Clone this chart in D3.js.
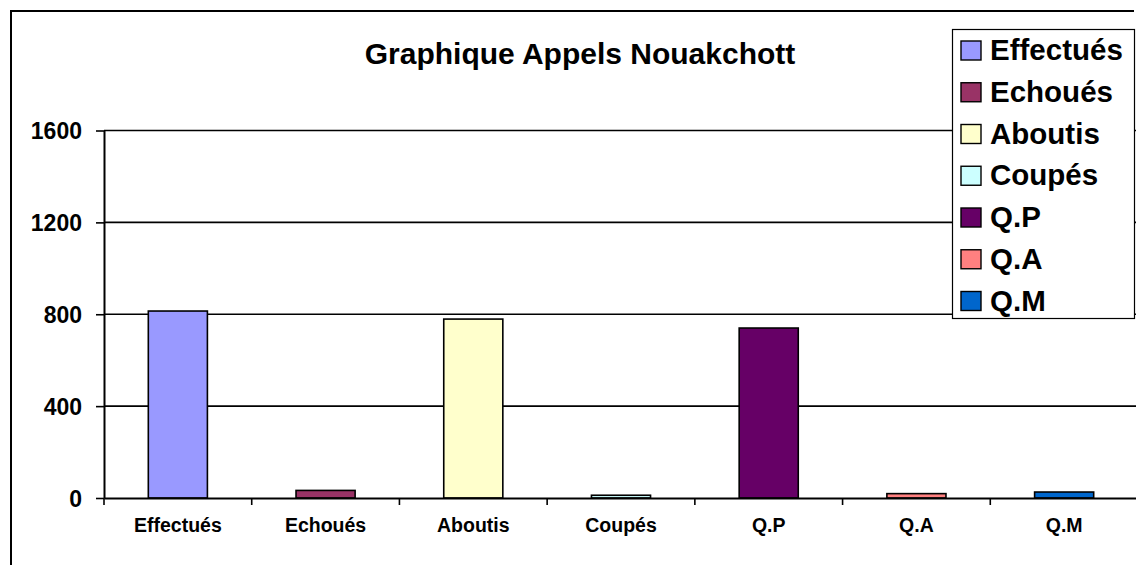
<!DOCTYPE html>
<html>
<head>
<meta charset="utf-8">
<script src="https://cdn.jsdelivr.net/npm/d3@7"></script>
<style>
  body { margin: 0; background: #fff; }
  text { font-family: "Liberation Sans", Arial, sans-serif; font-weight: bold; fill: #000; }
</style>
</head>
<body>
<script>
// data
const categories = ["Effectués", "Echoués", "Aboutis", "Coupés", "Q.P", "Q.A", "Q.M"];
const values = [814, 33, 779, 12, 740, 19, 26];
const colors = ["#9999FF", "#993366", "#FFFFCC", "#CCFFFF", "#660066", "#FF8080", "#0066CC"];
const yTicks = [0, 400, 800, 1200, 1600];
const title = "Graphique Appels Nouakchott";

const width = 1136, height = 565;
const plotLeft = 104, plotBottom = 498, plotTop = 130.5, plotRight = 1138;

const svg = d3.select("body").append("svg")
    .attr("width", width)
    .attr("height", height);

// outer frame (only top and left are visible)
svg.append("path")
    .attr("d", `M11,${height + 2} L11,11 L1134,11`)
    .attr("fill", "none")
    .attr("stroke", "#000")
    .attr("stroke-width", 2);

const x = d3.scaleBand()
    .domain(categories)
    .range([plotLeft, plotRight])
    .paddingInner(0.6)
    .paddingOuter(0.3);

const y = d3.scaleLinear()
    .domain([0, 1600])
    .range([plotBottom, plotTop]);

// gridlines
svg.append("g")
    .selectAll("line")
    .data(yTicks.filter(d => d > 0))
    .join("line")
    .attr("x1", plotLeft)
    .attr("x2", plotRight)
    .attr("y1", d => y(d))
    .attr("y2", d => y(d))
    .attr("stroke", "#000")
    .attr("stroke-width", 1.6);

// bars
svg.append("g")
    .selectAll("rect")
    .data(categories)
    .join("rect")
    .attr("x", d => x(d))
    .attr("y", (d, i) => y(values[i]))
    .attr("width", x.bandwidth())
    .attr("height", (d, i) => plotBottom - y(values[i]))
    .attr("fill", (d, i) => colors[i])
    .attr("stroke", "#000")
    .attr("stroke-width", 1.6);

// y axis
const yAxis = svg.append("g")
    .attr("transform", `translate(${plotLeft},0)`)
    .call(d3.axisLeft(y).tickValues(yTicks).tickFormat(d3.format("d"))
        .tickSize(8).tickPadding(14).tickSizeOuter(0));
yAxis.select(".domain").attr("stroke-width", 2);
yAxis.selectAll(".tick line").attr("stroke-width", 1.6);
yAxis.selectAll("text")
    .style("font-size", "23px")
    .attr("dy", "0.36em");

// x axis: labels centred in each band, ticks on the band boundaries
const xAxis = svg.append("g")
    .attr("transform", `translate(0,${plotBottom})`)
    .call(d3.axisBottom(x).tickSize(0).tickPadding(20).tickSizeOuter(0));
xAxis.select(".domain").attr("stroke-width", 2);
xAxis.selectAll("text")
    .style("font-size", "19.5px")
    .attr("dy", "0.71em");

const step = x.step();
const bounds = categories.map(d => x(d) + x.bandwidth() / 2 - step / 2);
xAxis.append("g")
    .selectAll("line")
    .data(bounds)
    .join("line")
    .attr("x1", d => d)
    .attr("x2", d => d)
    .attr("y1", 0)
    .attr("y2", 7)
    .attr("stroke", "#000")
    .attr("stroke-width", 1.6);

// title
svg.append("text")
    .attr("x", 580)
    .attr("y", 64)
    .attr("text-anchor", "middle")
    .style("font-size", "30px")
    .text(title);

// legend
const legend = svg.append("g");
legend.append("rect")
    .attr("x", 952.5)
    .attr("y", 29.5)
    .attr("width", 182)
    .attr("height", 289)
    .attr("fill", "#fff")
    .attr("stroke", "#000")
    .attr("stroke-width", 1.2);

const item = legend.selectAll("g")
    .data(categories)
    .join("g")
    .attr("transform", (d, i) => `translate(0,${41 + i * 41.75})`);

item.append("rect")
    .attr("x", 961)
    .attr("y", 0)
    .attr("width", 20)
    .attr("height", 19)
    .attr("fill", (d, i) => colors[i])
    .attr("stroke", "#000")
    .attr("stroke-width", 1.4);

item.append("text")
    .attr("x", 990)
    .attr("y", 19)
    .style("font-size", "29.5px")
    .text(d => d);
</script>
</body>
</html>
